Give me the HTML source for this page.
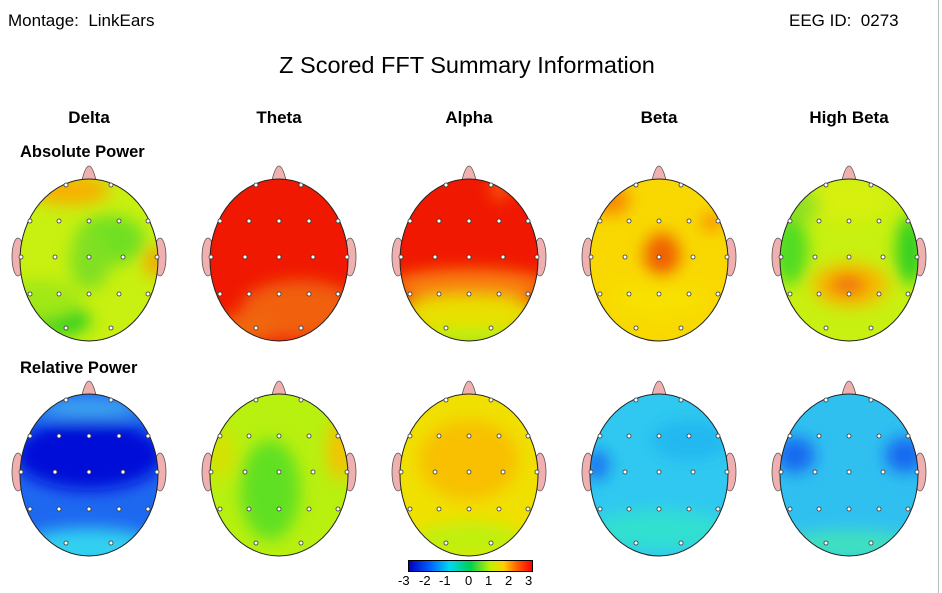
<!DOCTYPE html>
<html><head><style>
body{margin:0;width:942px;height:593px;background:#fff;position:relative;overflow:hidden;font-family:"Liberation Sans",sans-serif;color:#000}
.t{position:absolute;white-space:nowrap}
.c{font-weight:bold;font-size:17px;transform:translateX(-50%)}
</style></head><body>
<div class="t" style="left:8px;top:11px;font-size:17px">Montage:&nbsp; LinkEars</div>
<div class="t" style="left:789px;top:11px;font-size:17px">EEG ID:&nbsp; 0273</div>
<div class="t" style="left:467px;top:52px;font-size:23.5px;transform:translateX(-50%)">Z Scored FFT Summary Information</div>
<div class="t c" style="left:89px;top:108px">Delta</div>
<div class="t c" style="left:279px;top:108px">Theta</div>
<div class="t c" style="left:469px;top:108px">Alpha</div>
<div class="t c" style="left:659px;top:108px">Beta</div>
<div class="t c" style="left:849px;top:108px">High Beta</div>
<div class="t" style="left:20px;top:143px;font-size:16.5px;font-weight:bold">Absolute Power</div>
<div class="t" style="left:20px;top:359px;font-size:16.5px;font-weight:bold">Relative Power</div>
<div style="position:absolute;left:938px;top:0;width:1px;height:593px;background:#bbb"></div>
<svg id="s" width="942" height="593" style="position:absolute;left:0;top:0"></svg>
<div style="position:absolute;left:408px;top:560px;width:123px;height:10px;border:1px solid #000;background:linear-gradient(90deg,#0000c0,#0060ff 17%,#00d8f0 33%,#00d050 50%,#c0f000 66%,#ffd000 77%,#ff6000 88%,#ff0000)"></div>
<div class="t" style="left:398px;top:573px;font-size:13px">
<span style="position:absolute;left:0">-3</span><span style="position:absolute;left:21px">-2</span><span style="position:absolute;left:41px">-1</span><span style="position:absolute;left:67px">0</span><span style="position:absolute;left:87px">1</span><span style="position:absolute;left:107px">2</span><span style="position:absolute;left:127px">3</span></div>
<script>
const heads=[
[89,260,'#c8f010',[[70,190,40,15,'#f8b000'],[110,240,35,25,'#70e020'],[90,260,20,30,'#80e020'],[60,320,30,15,'#20d020'],[155,262,10,15,'#f8a000'],[40,300,40,20,'#a0e818']]],
[279,260,'#f01800',[[300,310,60,30,'#f06010'],[240,330,40,15,'#f06810']]],
[469,260,'#f01800',[[469,285,80,16,'#f88010'],[469,315,80,20,'#e8e000'],[469,340,60,12,'#b8f010'],[500,190,10,10,'#f86010']]],
[659,260,'#f8d800',[[662,255,18,22,'#f06000'],[610,200,20,15,'#f88800'],[712,222,10,8,'#f88000'],[659,300,50,20,'#f8e000']]],
[849,260,'#c8f010',[[790,250,18,35,'#50dc20'],[910,250,14,35,'#30d020'],[850,285,38,22,'#f8b800'],[848,285,18,8,'#f05010'],[849,200,40,20,'#d8f010'],[800,205,20,15,'#90e020']]],
[89,475,'#1e68f0',[[89,455,75,35,'#0010d8'],[89,548,70,20,'#30d0f0'],[89,408,50,10,'#40a8f0']]],
[279,475,'#b8f010',[[270,490,30,50,'#60e020'],[340,450,12,30,'#f8c000'],[222,455,12,25,'#d8e000']]],
[469,475,'#f0e000',[[469,460,50,40,'#f8c000'],[469,540,55,18,'#c0f010']]],
[659,475,'#30c8f0',[[597,465,12,15,'#1870f0'],[659,530,70,20,'#30e0d0'],[690,440,40,20,'#20b8f0']]],
[849,475,'#30c0f0',[[795,455,20,18,'#1868f0'],[905,455,20,18,'#1868f0'],[849,545,70,15,'#40e0c0']]]
];
let h='<defs><filter id="b" x="-50%" y="-50%" width="200%" height="200%"><feGaussianBlur stdDeviation="8"/></filter></defs>';
heads.forEach((d,i)=>{
 const [cx,cy,base,bl]=d;
 h+=`<clipPath id="c${i}"><ellipse cx="${cx}" cy="${cy}" rx="69" ry="81"/></clipPath>`;
 h+=`<path d="M${cx-7} ${cy-80} Q${cx} ${cy-108} ${cx+7} ${cy-80}Z" fill="#f0b0b0" stroke="#555" stroke-width="0.8"/>`;
 h+=`<ellipse cx="${cx-71}" cy="${cy-3}" rx="6" ry="19" fill="#f0b0b0" stroke="#555" stroke-width="0.8"/>`;
 h+=`<ellipse cx="${cx+71}" cy="${cy-3}" rx="6" ry="19" fill="#f0b0b0" stroke="#555" stroke-width="0.8"/>`;
 h+=`<g clip-path="url(#c${i})"><rect x="${cx-70}" y="${cy-82}" width="140" height="164" fill="${base}"/><g filter="url(#b)">`;
 bl.forEach(b=>h+=`<ellipse cx="${b[0]}" cy="${b[1]}" rx="${b[2]}" ry="${b[3]}" fill="${b[4]}"/>`);
 h+=`</g></g><ellipse cx="${cx}" cy="${cy}" rx="69" ry="81" fill="none" stroke="#222" stroke-width="1"/>`;
 const pts=[[-23,-75],[22,-75],[-59,-39],[-30,-39],[0,-39],[30,-39],[59,-39],[-68,-3],[-34,-3],[0,-3],[34,-3],[68,-3],[-59,34],[-30,34],[0,34],[30,34],[59,34],[-23,68],[22,68]];
 pts.forEach(p=>h+=`<circle cx="${cx+p[0]}" cy="${cy+p[1]}" r="2" fill="#fff" stroke="#333" stroke-width="0.8"/>`);
});
document.getElementById('s').innerHTML=h;
</script>
</body></html>
